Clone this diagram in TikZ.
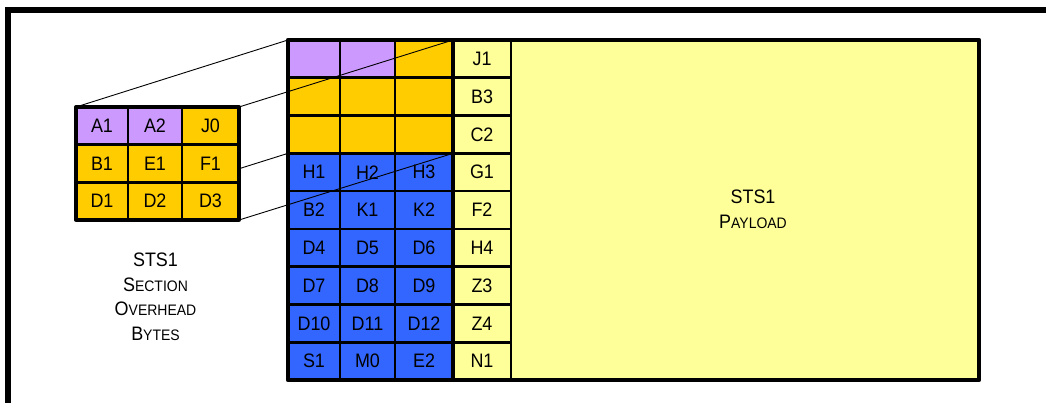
\documentclass[tikz,border=0pt]{standalone}
\usepackage{fontspec}
\setmainfont{Liberation Sans}[FakeStretch=0.92]
\definecolor{cpurple}{HTML}{CC99FF}
\definecolor{cgold}{HTML}{FFCC00}
\definecolor{cblue}{HTML}{3366FF}
\definecolor{cyell}{HTML}{FFFF99}
\pgfdeclarelayer{front}
\pgfsetlayers{main,front}
\newcommand{\fsc}[2]{#1{\fontsize{15.2}{16}\selectfont #2}}
\begin{document}
\begin{tikzpicture}[x=1pt,y=-1pt,
  cell/.style={draw=black, line width=2.7pt, rectangle, inner sep=0pt, outer sep=0pt,
    minimum height=37.78pt, font=\fontsize{19.5}{22}\selectfont, text=black},
  scell/.style={cell, minimum height=37.67pt},
  connector/.style={draw=black, line width=0.9pt},
  border/.style={draw=black, line width=4.5pt, line join=round},
  label/.style={align=center, inner sep=0pt, font=\fontsize{19.5}{24.5}\selectfont, text=black}]
\useasboundingbox (0,0) rectangle (1046,403);
\clip (0,0) rectangle (1046,403);
% page frame
\draw[line width=6pt] (8,430) -- (8,9.7) -- (1080,9.7);
% main grid
\foreach \r/\a/\b/\c/\j/\fa/\fb/\fc in {
  1/{}/{}/{}/J1/cpurple/cpurple/cgold,
  2/{}/{}/{}/B3/cgold/cgold/cgold,
  3/{}/{}/{}/C2/cgold/cgold/cgold,
  4/H1/H2/H3/G1/cblue/cblue/cblue,
  5/B2/K1/K2/F2/cblue/cblue/cblue,
  6/D4/D5/D6/H4/cblue/cblue/cblue,
  7/D7/D8/D9/Z3/cblue/cblue/cblue,
  8/D10/D11/D12/Z4/cblue/cblue/cblue,
  9/S1/M0/E2/N1/cblue/cblue/cblue}{
  \node[cell, fill=\fa, minimum width=52pt] (m\r1) at (314, {40+37.78*(\r-0.5)}) {\a};
  \node[cell, fill=\fb, minimum width=55pt] (m\r2) at (367.5, {40+37.78*(\r-0.5)}) {\b};
  \node[cell, fill=\fc, minimum width=58pt] (m\r3) at (424, {40+37.78*(\r-0.5)}) {\c};
  \node[cell, fill=cyell, minimum width=58pt] (j\r) at (482, {40+37.78*(\r-0.5)}) {\j};
}
\node[cell, fill=cyell, minimum width=468pt, minimum height=340pt] (payload) at (745,210) {};
\node[label] (plabel) at (753,209.3) {STS1\\\fsc{P}{AYLOAD}};
\draw[border] (m11.north west) rectangle (payload.south east);
\draw[line width=3.6pt] (m13.north east) -- (m93.south east);
% small grid (front layer)
\begin{pgfonlayer}{front}
\foreach \r/\a/\b/\c/\fa/\fb/\fc in {
  1/A1/A2/J0/cpurple/cpurple/cgold,
  2/B1/E1/F1/cgold/cgold/cgold,
  3/D1/D2/D3/cgold/cgold/cgold}{
  \node[scell, fill=\fa, minimum width=52pt] (s\r1) at (102, {107+37.67*(\r-0.5)}) {\a};
  \node[scell, fill=\fb, minimum width=54pt] (s\r2) at (155, {107+37.67*(\r-0.5)}) {\b};
  \node[scell, fill=\fc, minimum width=57pt] (s\r3) at (210.5, {107+37.67*(\r-0.5)}) {\c};
}
\draw[draw=black, line width=3.3pt, line join=round] (s11.north west) rectangle (s33.south east);
\end{pgfonlayer}
% connectors
\draw[connector] (s11.north west) -- (m11.north west);
\draw[connector] (s13.north east) -- (m13.north east);
\draw[connector] (s31.south west) -- (m31.south west);
\draw[connector] (s33.south east) -- (m33.south east);
% left label
\node[label] (slabel) at (155.5,296.7) {STS1\\\fsc{S}{ECTION}\\\fsc{O}{VERHEAD}\\\fsc{B}{YTES}};
\end{tikzpicture}
\end{document}
